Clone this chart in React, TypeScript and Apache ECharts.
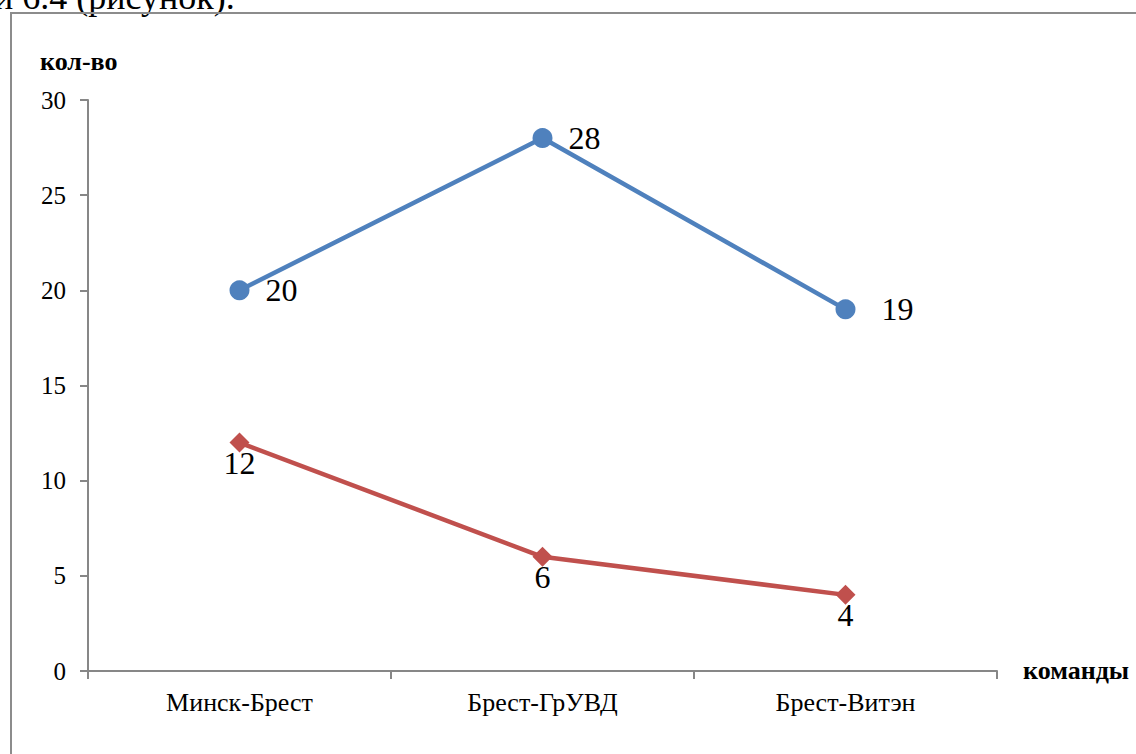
import React, { useEffect, useRef } from "react";
import * as echarts from "echarts";

const categories = ["Минск-Брест", "Брест-ГрУВД", "Брест-Витэн"];
const seriesA = [20, 28, 19];
const seriesB = [12, 6, 4];
const yTicks = [0, 5, 10, 15, 20, 25, 30];

const FONT = "Liberation Serif";

export default function App() {
  const ref = useRef<HTMLDivElement>(null);

  useEffect(() => {
    if (!ref.current) return;
    const chart = echarts.init(ref.current, null, { renderer: "svg" });
    const yMax = yTicks[yTicks.length - 1];
    chart.setOption({
      animation: false,
      backgroundColor: "#ffffff",
      textStyle: { fontFamily: FONT },
      grid: { left: 88, right: 139, top: 100, bottom: 83, containLabel: false },
      xAxis: {
        type: "category",
        data: categories,
        boundaryGap: true,
        axisLine: { lineStyle: { color: "#878787", width: 2 } },
        axisTick: { show: true, length: 8, lineStyle: { color: "#878787", width: 2 } },
        axisLabel: { fontFamily: FONT, fontSize: 26, color: "#000", margin: 18 },
        splitLine: { show: false },
      },
      yAxis: {
        type: "value",
        min: yTicks[0],
        max: yMax,
        interval: 5,
        axisLine: { show: true, lineStyle: { color: "#878787", width: 2 } },
        axisTick: { show: true, length: 8, lineStyle: { color: "#878787", width: 2 } },
        axisLabel: { fontFamily: FONT, fontSize: 25, color: "#000", margin: 22 },
        splitLine: { show: false },
      },
      graphic: [
        {
          type: "text",
          left: -6,
          top: -21,
          style: { text: "и 6.4 (рисунок).", font: `36px ${FONT}`, fill: "#000" },
        },
        {
          type: "rect",
          shape: { x: 11, y: 13, width: 1300, height: 900 },
          style: { fill: "none", stroke: "#8c8c8c", lineWidth: 2 },
          z: 10,
        },
        {
          type: "text",
          x: 40,
          y: 61,
          style: {
            text: "кол-во",
            font: `bold 26px ${FONT}`,
            fill: "#000",
            textVerticalAlign: "middle",
          },
        },
        {
          type: "text",
          x: 1023,
          y: 670,
          style: {
            text: "команды",
            font: `bold 26px ${FONT}`,
            fill: "#000",
            textVerticalAlign: "middle",
          },
        },
      ],
      series: [
        {
          type: "line",
          data: seriesA.map((v, i) => ({
            value: v,
            label: { distance: i === 2 ? 26 : 16 },
          })),
          symbol: "circle",
          symbolSize: 20,
          lineStyle: { color: "#4F81BD", width: 4.5 },
          itemStyle: { color: "#4F81BD" },
          label: {
            show: true,
            position: "right",
            fontFamily: FONT,
            fontSize: 32,
            color: "#000",
          },
        },
        {
          type: "line",
          data: seriesB.map((v) => ({ value: v })),
          symbol: "diamond",
          symbolSize: 20,
          lineStyle: { color: "#C0504D", width: 4.5 },
          itemStyle: { color: "#C0504D" },
          label: {
            show: true,
            position: "bottom",
            distance: -6,
            fontFamily: FONT,
            fontSize: 32,
            color: "#000",
          },
        },
      ],
    });
    return () => chart.dispose();
  }, []);

  return (
    <div
      ref={ref}
      style={{ position: "absolute", left: 0, top: 0, width: 1136, height: 754 }}
    />
  );
}
